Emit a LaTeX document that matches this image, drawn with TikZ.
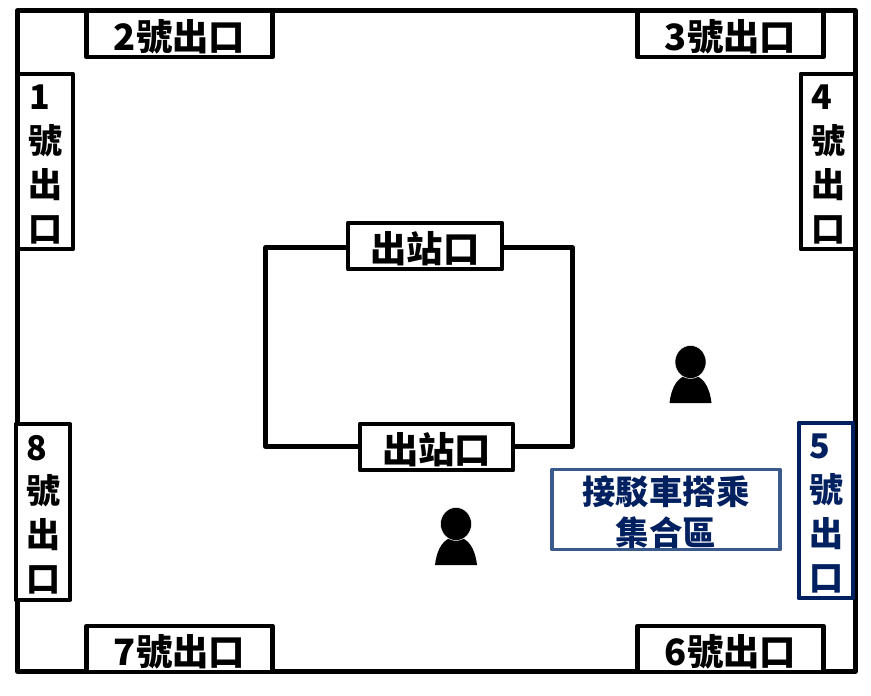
\documentclass[tikz,border=0pt]{standalone}
\usepackage{fontspec}
\usepackage{tikz}
\usetikzlibrary{positioning}
\newfontfamily\cjk{Noto Sans CJK TC Black}
\definecolor{navy}{HTML}{002060}
\definecolor{steel}{HTML}{3A5A8C}
\tikzset{
  exitbox/.style={draw=black,line width=3.6pt,fill=white,inner sep=0pt,line join=round,
    font=\cjk\fontsize{31}{38}\selectfont,text=black,align=center},
  flatexit/.style={exitbox,minimum width=#1*0.03cm,minimum height=1.4cm},
  tallexit/.style={exitbox,font=\cjk\fontsize{29}{37.5}\selectfont,minimum width=1.64cm,minimum height=5.27cm},
}
\newcommand{\droptext}[1]{\raisebox{-2.8pt}[27pt][4pt]{#1}}
\begin{document}
\begin{tikzpicture}[x=0.03cm,y=-0.03cm,>=stealth]
\useasboundingbox (0,0) rectangle (871,695);
% outer hall
\node[draw,line width=3.6pt,line join=round,minimum width=838*0.03cm,minimum height=661*0.03cm] (hall) at (436.5,341) {};
% station block
\node[draw,line width=3.6pt,line join=round,minimum width=307*0.03cm,minimum height=199*0.03cm] (block) at (419,347) {};
% exits along top and bottom
\foreach \x/\y/\n in {179.5/34/2, 730.5/34/3, 179.5/649/7, 730.5/649/6} {
  \node[flatexit=186] (exit\n) at (\x,\y) {\droptext{\n 號出口}};
}
% exits along the sides
\foreach \x/\y/\n in {45.5/161.5/1, 828/161.5/4, 43/512/8} {
  \node[tallexit] (exit\n) at (\x,\y) {\rule{0pt}{26pt}\hspace*{-0.35em}\n\\號\\出\\口};
}
\node[tallexit,draw=navy,text=navy] (exit5) at (826,510.5) {\rule{0pt}{26pt}\hspace*{-0.35em}5\\號\\出\\口};
% station gates
\node[flatexit=154] (gatetop) at (425,246) {\droptext{出站口}};
\node[flatexit=153] (gatebottom) at (436.5,447) {\droptext{出站口}};
% pickup area
\node[exitbox,draw=steel,line width=3.2pt,text=navy,font=\cjk\fontsize{28.5}{35}\selectfont,minimum width=228*0.03cm,minimum height=80*0.03cm] (pickup) at (666,509.5) {\rule{0pt}{29pt}接駁車搭乘\\集合區};
% people
\foreach \x/\y/\n in {690.5/362/a, 456/524/b} {
  \fill (\x-21,\y+41) .. controls (\x-19,\y+24) and (\x-12,\y+13) .. (\x,\y+13)
        .. controls (\x+12,\y+13) and (\x+19,\y+24) .. (\x+21,\y+41) -- cycle;
  \fill[draw=white,line width=0.4pt] (\x,\y) ellipse (15.5 and 16.5);
}
\end{tikzpicture}
\end{document}
